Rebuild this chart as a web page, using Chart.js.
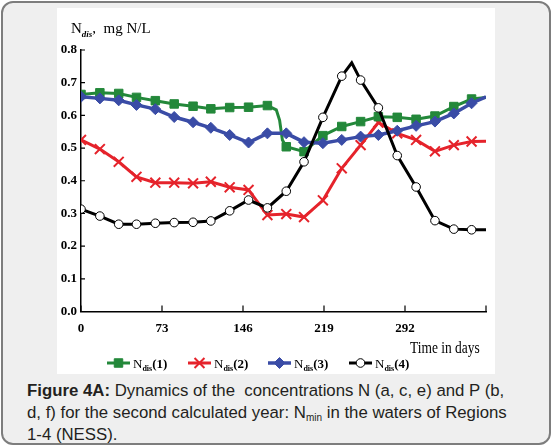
<!DOCTYPE html>
<html>
<head>
<meta charset="utf-8">
<script src="https://cdn.jsdelivr.net/npm/chart.js@4.4.1/dist/chart.umd.min.js"></script>
<style>
  html, body { margin: 0; padding: 0; background: #fff; width: 552px; height: 446px; overflow: hidden; }
  #frame { position: absolute; left: 1px; top: 1px; width: 546px; height: 440px; border: 2px solid #7d7d7d; border-radius: 12px; background: #efefef; }
  #panel { position: absolute; left: 57px; top: 8px; width: 438px; height: 366px; background: #fff; }
  #caption { position: absolute; left: 27px; top: 380px; width: 510px; font: 16.8px 'Liberation Sans', Arial, sans-serif; line-height: 22px; color: #231f20; }
  #caption sub { font-size: 10px; line-height: 0; vertical-align: -3px; }
</style>
</head>
<body>
<div id="frame"></div>
<div id="panel"><canvas id="nChart" width="438" height="366"></canvas></div>
<div id="caption"><b>Figure 4A:</b> Dynamics of the &nbsp;concentrations N (a, c, e) and P (b,<br>d, f) for the second calculated year: N<sub>min</sub> in the waters of Regions<br>1-4 (NESS).</div>
<script>
'use strict';

// days where the markers sit (last one is the line end, no marker)
const days = [0, 17, 34, 50, 67, 84, 101, 117, 134, 151, 168, 185, 201, 218, 235, 252, 268, 285, 302, 319, 336, 352, 365];

const n1 = [0.664, 0.669, 0.667, 0.655, 0.645, 0.635, 0.628, 0.620, 0.624, 0.625, 0.630, 0.504, 0.489, 0.538, 0.566, 0.581, 0.596, 0.594, 0.588, 0.598, 0.627, 0.650, 0.655];
const n2 = [0.525, 0.497, 0.458, 0.412, 0.394, 0.394, 0.392, 0.397, 0.380, 0.372, 0.295, 0.298, 0.289, 0.340, 0.438, 0.509, 0.578, 0.545, 0.525, 0.490, 0.509, 0.520, 0.521];
const n3 = [0.657, 0.652, 0.646, 0.632, 0.619, 0.595, 0.579, 0.562, 0.540, 0.517, 0.545, 0.545, 0.518, 0.515, 0.525, 0.535, 0.540, 0.553, 0.568, 0.581, 0.606, 0.637, 0.657];
const n4 = [0.313, 0.292, 0.267, 0.267, 0.270, 0.272, 0.273, 0.277, 0.308, 0.341, 0.317, 0.368, 0.458, 0.594, 0.720, 0.708, 0.623, 0.477, 0.381, 0.278, 0.252, 0.250, 0.250];

// bends of the curves that fall between markers
const n1BendDays = [176, 179, 181.5];
const n1Bend = [0.617, 0.585, 0.525];
const n4PeakDays = [244];
const n4Peak = [0.761];

const xTicks = [0, 73, 146, 219, 292, 365];
const xTickLabels = ['0', '73', '146', '219', '292', ''];
const yTicks = [0, 0.1, 0.2, 0.3, 0.4, 0.5, 0.6, 0.7, 0.8];

const COLORS = {
  green: '#23883a',
  red: '#e5232b',
  blue: '#3a4ca6',
  black: '#000000',
};

const SERIF = "'Liberation Serif', 'Times New Roman', serif";
const markerDays = days.slice(0, -1);

function toPoints(xs, ys, exXs = [], exYs = []) {
  const pts = xs.map((d, i) => ({ x: d, y: ys[i] }));
  exXs.forEach((d, i) => pts.push({ x: d, y: exYs[i] }));
  return pts.sort((a, b) => a.x - b.x);
}

function markerRadius(r) {
  return (ctx) => (ctx.raw && markerDays.includes(ctx.raw.x)) ? r : 0;
}

const SERIES = [
  { label: '1', data: toPoints(days, n1, n1BendDays, n1Bend), color: COLORS.green, style: 'rect', r: 6, fill: COLORS.green, bw: 1, width: 3, order: 2 },
  { label: '2', data: toPoints(days, n2), color: COLORS.red, style: 'crossRot', r: 7, fill: COLORS.red, bw: 2, width: 3, order: 3 },
  { label: '3', data: toPoints(days, n3), color: COLORS.blue, style: 'rectRot', r: 5.5, fill: COLORS.blue, bw: 1, width: 3.5, order: 1 },
  { label: '4', data: toPoints(days, n4, n4PeakDays, n4Peak), color: COLORS.black, style: 'circle', r: 4.3, fill: '#ffffff', bw: 1, width: 3, order: 0 },
];

// draws text pieces one after another (for the subscripts)
function drawRuns(ctx, x, y, runs) {
  runs.forEach(run => {
    ctx.font = run.font;
    ctx.fillText(run.text, x, y + (run.dy || 0));
    x += ctx.measureText(run.text).width;
  });
}

const extrasPlugin = {
  id: 'extras',
  afterDraw(chart) {
    const { ctx, chartArea: a, scales: { x, y } } = chart;
    ctx.save();

    // inward tick marks
    ctx.strokeStyle = '#000';
    ctx.lineWidth = 1.2;
    ctx.beginPath();
    yTicks.forEach(v => {
      const py = y.getPixelForValue(v);
      ctx.moveTo(a.left, py);
      ctx.lineTo(a.left + 4, py);
    });
    xTicks.forEach(v => {
      const px = x.getPixelForValue(v);
      ctx.moveTo(px, a.bottom);
      ctx.lineTo(px, a.bottom - 6);
    });
    ctx.stroke();

    // axis titles
    ctx.fillStyle = '#000';
    ctx.textBaseline = 'alphabetic';
    ctx.textAlign = 'left';
    drawRuns(ctx, 14, 25, [
      { text: 'N', font: `15px ${SERIF}` },
      { text: 'dis', font: `bold italic 9px ${SERIF}`, dy: 4 },
      { text: ',', font: `15px ${SERIF}` },
      { text: '  mg N/L', font: `15px ${SERIF}` },
    ]);
    // the original title font is narrow, so squeeze it a little
    ctx.save();
    ctx.translate(353, 345);
    ctx.scale(0.84, 1);
    drawRuns(ctx, 0, 0, [{ text: 'Time in days', font: `16px ${SERIF}` }]);
    ctx.restore();

    // legend
    const legendX = [50, 131, 211, 292];
    const ly = 355;
    SERIES.forEach((s, i) => {
      const x0 = legendX[i];
      ctx.strokeStyle = s.color;
      ctx.lineWidth = s.width;
      ctx.beginPath();
      ctx.moveTo(x0, ly);
      ctx.lineTo(x0 + 23, ly);
      ctx.stroke();
      ctx.fillStyle = s.fill;
      ctx.strokeStyle = s.color;
      ctx.lineWidth = s.bw;
      Chart.helpers.drawPoint(ctx, { pointStyle: s.style, radius: s.r, borderWidth: s.bw, rotation: 0 }, x0 + 11.5, ly);
      ctx.fillStyle = '#000';
      drawRuns(ctx, x0 + 26, ly + 5, [
        { text: 'N', font: `13px ${SERIF}` },
        { text: 'dis', font: `bold 8px ${SERIF}`, dy: 3 },
        { text: `(${s.label})`, font: `bold 13px ${SERIF}` },
      ]);
    });

    ctx.restore();
  }
};

new Chart(document.getElementById('nChart').getContext('2d'), {
  type: 'line',
  data: {
    datasets: SERIES.map(s => ({
      label: 'N dis(' + s.label + ')',
      data: s.data,
      borderColor: s.color,
      backgroundColor: s.fill,
      borderWidth: s.width,
      pointStyle: s.style,
      pointRadius: markerRadius(s.r),
      pointBorderWidth: s.bw,
      pointBorderColor: s.color,
      pointBackgroundColor: s.fill,
      tension: 0,
      fill: false,
      order: s.order,
    })),
  },
  options: {
    responsive: false,
    animation: false,
    layout: { padding: { top: 42, right: 8, left: 0, bottom: 0 } },
    plugins: {
      legend: { display: false },
      tooltip: { enabled: false },
    },
    scales: {
      x: {
        type: 'linear',
        min: 0,
        max: 365,
        afterFit: (scale) => { scale.height = 62.5; },
        afterBuildTicks: (scale) => { scale.ticks = xTicks.map(v => ({ value: v })); },
        ticks: {
          color: '#000',
          padding: 9,
          maxRotation: 0,
          font: { family: SERIF, size: 13, weight: 'bold' },
          callback: (v) => xTickLabels[xTicks.indexOf(v)] ?? '',
        },
        grid: { display: true, drawOnChartArea: false, drawTicks: false },
        border: { display: true, color: '#000', width: 1.5 },
      },
      y: {
        min: 0,
        max: 0.8,
        afterFit: (scale) => { scale.width = 24; },
        afterBuildTicks: (scale) => { scale.ticks = yTicks.map(v => ({ value: v })); },
        ticks: {
          color: '#000',
          padding: 4,
          font: { family: SERIF, size: 13, weight: 'bold' },
          callback: (v) => v.toFixed(1),
        },
        grid: { display: true, drawOnChartArea: false, drawTicks: false },
        border: { display: true, color: '#000', width: 1.5 },
      },
    },
  },
  plugins: [extrasPlugin],
});
</script>
</body>
</html>
